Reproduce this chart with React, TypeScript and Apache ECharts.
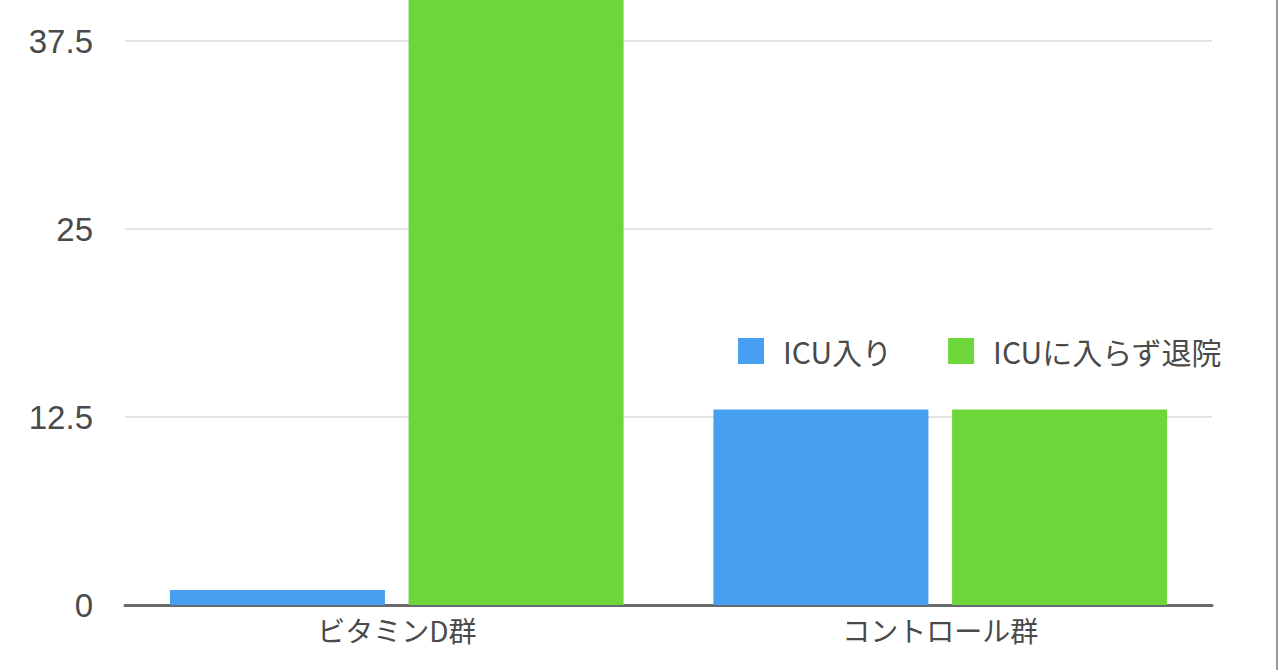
import React, { useEffect, useRef } from "react";
import * as echarts from "echarts";

const categories = ["ビタミンD群", "コントロール群"];
const seriesNames = ["ICU入り", "ICUに入らず退院"];
const icuValues = [1, 13];
const dischargedValues = [49, 13];
const yTicks = [0, 12.5, 25, 37.5, 50];

const FONT = "'Noto Sans CJK JP', 'Noto Sans', sans-serif";

export default function App() {
  const ref = useRef<HTMLDivElement>(null);
  useEffect(() => {
    if (!ref.current) return;
    const chart = echarts.init(ref.current, null, { renderer: "svg" });
    chart.setOption({
      animation: false,
      backgroundColor: "#ffffff",
      textStyle: { fontFamily: FONT },
      grid: { left: 125, right: 68, top: -147, bottom: 65, outerBoundsMode: "none", containLabel: false },
      legend: {
        data: seriesNames,
        left: 738,
        top: 336,
        padding: 0,
        itemWidth: 26,
        itemHeight: 26,
        itemGap: 56,
        icon: "rect",
        textStyle: { fontSize: 30, color: "#4a4a4a", fontFamily: FONT, padding: [0, 0, 0, 14] },
      },
      xAxis: {
        type: "category",
        data: categories,
        axisLine: { lineStyle: { color: "#6a6a6a", width: 3 } },
        axisTick: { show: false },
        axisLabel: { fontSize: 28, color: "#4a4a4a", margin: 11, fontFamily: FONT },
      },
      yAxis: {
        type: "value",
        min: yTicks[0],
        max: yTicks[yTicks.length - 1],
        interval: 12.5,
        axisLine: { show: false },
        axisTick: { show: false },
        axisLabel: {
          fontSize: 33,
          color: "#4a4a4a",
          margin: 32,
          showMaxLabel: false,
          fontFamily: "'Liberation Sans', Arial, sans-serif",
        },
        splitLine: { lineStyle: { color: "#e4e4e4", width: 2 } },
      },
      series: [
        {
          name: seriesNames[0],
          type: "bar",
          data: icuValues,
          barWidth: 215,
          barGap: "11%",
          itemStyle: { color: "#469ff0" },
        },
        {
          name: seriesNames[1],
          type: "bar",
          data: dischargedValues,
          barWidth: 215,
          barGap: "11%",
          itemStyle: { color: "#6dd63a" },
        },
      ],
      graphic: [
        {
          type: "line",
          shape: { x1: 1277, y1: 0, x2: 1277, y2: 670 },
          style: { stroke: "#9a9a9a", lineWidth: 2 },
        },
      ],
    });
    return () => chart.dispose();
  }, []);
  return (
    <div
      ref={ref}
      style={{ position: "fixed", left: 0, top: 0, width: 1280, height: 670, background: "#fff" }}
    />
  );
}
